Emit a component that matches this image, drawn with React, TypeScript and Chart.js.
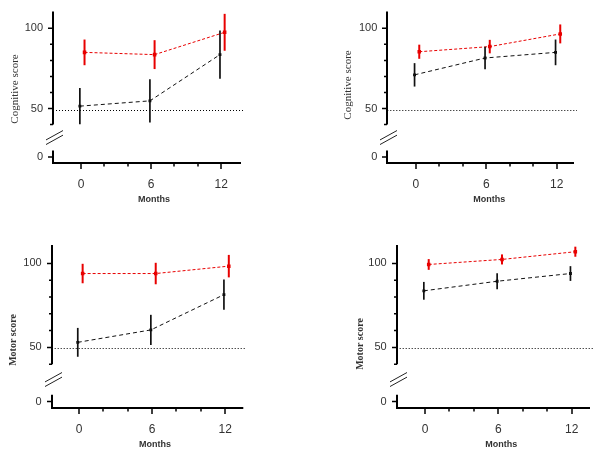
import React, { useEffect, useRef } from 'react';
import { Chart, LinearScale, registerables } from 'chart.js';

// ---------- data ----------
const MONTHS = [0, 6, 12];
const X_TICKS = [0, 6, 12];
const X_MINOR_TICKS = [2, 4, 8, 10];
const Y_TICKS = [0, 50, 100];
const Y_MINOR_TICKS = [40, 60, 70, 80, 90];
const REFERENCE_SCORE = 50;
const X_TITLE = 'Months';
const COGNITIVE_TITLE = 'Cognitive score';
const MOTOR_TITLE = 'Motor score';
const RED_GROUP = 'Group 1';
const BLACK_GROUP = 'Group 2';

// top-left: cognitive
const cogLeftRed = [85, 83.6, 97.5];
const cogLeftRedErr = [8, 9, 11.5];
const cogLeftBlack = [51.5, 54.8, 83.6];
const cogLeftBlackErr = [11.3, 13.5, 15];
// top-right: cognitive
const cogRightRed = [85.4, 88.6, 96.5];
const cogRightRedErr = [4.4, 4.2, 5.9];
const cogRightBlack = [71, 81.5, 85];
const cogRightBlackErr = [7.3, 7, 8];
// bottom-left: motor
const motLeftRed = [94, 94, 98.4];
const motLeftRedErr = [5.8, 6.4, 6.7];
const motLeftBlack = [53, 60.4, 81.4];
const motLeftBlackErr = [8.6, 9, 9];
// bottom-right: motor
const motRightRed = [99.4, 102.4, 107];
const motRightRedErr = [3.2, 3, 3];
const motRightBlack = [83.7, 89.4, 94];
const motRightBlackErr = [5.3, 4.8, 4.4];

const PANELS = [
  { title: COGNITIVE_TITLE, red: cogLeftRed, redErr: cogLeftRedErr, black: cogLeftBlack, blackErr: cogLeftBlackErr },
  { title: COGNITIVE_TITLE, red: cogRightRed, redErr: cogRightRedErr, black: cogRightBlack, blackErr: cogRightBlackErr },
  { title: MOTOR_TITLE, red: motLeftRed, redErr: motLeftRedErr, black: motLeftBlack, blackErr: motLeftBlackErr },
  { title: MOTOR_TITLE, red: motRightRed, redErr: motRightRedErr, black: motRightBlack, blackErr: motRightBlackErr },
];

// ---------- layout / style ----------
const RED_OFFSET = 0.3;
const BLACK_OFFSET = -0.1;
const Y_MIN = -4;
const BREAK_LOW = 4;
const BREAK_HIGH = 40;
const Y_AXIS_W = 40;
const CANVAS_W = 300;
const CANVAS_H = 229;
const RED = 'rgb(232,0,0)';
const INK = '#000';
const TEXT = '#333';
const SERIF = '"Liberation Serif", "Times New Roman", serif';

const PANEL_LAYOUT = [
  { left: 0, top: 0, padLeft: 13, padRight: 59, padTop: 11, xH: 65.7, xMin: -2.4, xMax: 13.7, yMax: 110.4, gap: 16.1, titleDx: 38, titleCy: 89, titleFont: '11px ' + SERIF },
  { left: 300, top: 0, padLeft: 47.3, padRight: 26, padTop: 11, xH: 65.7, xMin: -2.42, xMax: 13.47, yMax: 110.4, gap: 16.1, titleDx: 39, titleCy: 85, titleFont: '11px ' + SERIF },
  { left: 0, top: 229, padLeft: 11.7, padRight: 56.7, padTop: 16, xH: 49.7, xMin: -2.24, xMax: 13.49, yMax: 111, gap: 18.3, titleDx: 38.7, titleCy: 111, titleFont: 'bold 10px ' + SERIF },
  { left: 300, top: 229, padLeft: 56.7, padRight: 10, padTop: 16, xH: 49.7, xMin: -2.32, xMax: 13.5, yMax: 111, gap: 18.3, titleDx: 36.7, titleCy: 115, titleFont: 'bold 10px ' + SERIF },
];

// ---------- broken linear scale ----------
class BrokenLinearScale extends LinearScale {
  static id = 'brokenLinear';
  static defaults = {};
  brk() {
    const o: any = this.options;
    return { lo: o.breakLow ?? BREAK_LOW, hi: o.breakHigh ?? BREAK_HIGH, gap: o.gapUnits ?? 16 };
  }
  getPixelForValue(value: any) {
    if (value === null || value === undefined || isNaN(value)) return NaN;
    const { lo, hi, gap } = this.brk();
    const min = this.min, max = this.max;
    const total = (lo - min) + gap + (max - hi);
    let u: number;
    if (value <= lo) u = value - min;
    else if (value >= hi) u = (lo - min) + gap + (value - hi);
    else u = (lo - min) + gap * (value - lo) / (hi - lo);
    return this.bottom - (u / total) * (this.bottom - this.top);
  }
  getValueForPixel(pixel: number) {
    const { lo, hi, gap } = this.brk();
    const min = this.min, max = this.max;
    const total = (lo - min) + gap + (max - hi);
    const u = ((this.bottom - pixel) / (this.bottom - this.top)) * total;
    const a = lo - min, b = a + gap;
    if (u <= a) return min + u;
    if (u >= b) return hi + (u - b);
    return lo + ((u - a) / gap) * (hi - lo);
  }
}

Chart.register(...registerables, BrokenLinearScale);

function makeDecor(panel: any, lay: any) {
  return {
    id: 'decor',
    beforeDatasetsDraw(chart: any) {
      const { ctx, chartArea } = chart;
      const y = chart.scales.y;
      const py = Math.round(y.getPixelForValue(REFERENCE_SCORE)) + 1.5;
      ctx.save();
      ctx.strokeStyle = INK;
      ctx.lineWidth = 1;
      ctx.setLineDash([1, 2]);
      ctx.beginPath();
      ctx.moveTo(chartArea.left, py);
      ctx.lineTo(chartArea.right + 3, py);
      ctx.stroke();
      ctx.restore();
    },
    afterDatasetsDraw(chart: any) {
      const { ctx } = chart;
      const x = chart.scales.x;
      const y = chart.scales.y;
      const groups = [
        { vals: panel.black, errs: panel.blackErr, off: BLACK_OFFSET, color: '#111', w: 1.7 },
        { vals: panel.red, errs: panel.redErr, off: RED_OFFSET, color: RED, w: 2 },
      ];
      ctx.save();
      for (const g of groups) {
        ctx.strokeStyle = g.color;
        ctx.lineWidth = g.w;
        MONTHS.forEach((m, i) => {
          const px = x.getPixelForValue(m + g.off);
          ctx.beginPath();
          ctx.moveTo(px, y.getPixelForValue(g.vals[i] + g.errs[i]));
          ctx.lineTo(px, y.getPixelForValue(g.vals[i] - g.errs[i]));
          ctx.stroke();
        });
      }
      ctx.restore();
    },
    afterDraw(chart: any) {
      const { ctx, chartArea } = chart;
      const x = chart.scales.x;
      const y = chart.scales.y;
      const ax = Math.round(chartArea.left);
      const bottom = Math.round(chartArea.bottom);
      ctx.save();
      ctx.strokeStyle = INK;
      ctx.lineWidth = 2;
      // y axis segments
      ctx.beginPath();
      ctx.moveTo(ax, chartArea.top);
      ctx.lineTo(ax, y.getPixelForValue(BREAK_HIGH));
      ctx.moveTo(ax, y.getPixelForValue(BREAK_LOW));
      ctx.lineTo(ax, bottom + 1);
      // x axis
      ctx.moveTo(ax - 1, bottom);
      ctx.lineTo(chartArea.right, bottom);
      ctx.stroke();
      // ticks
      ctx.lineWidth = 1.5;
      ctx.beginPath();
      for (const v of Y_TICKS) {
        const py = y.getPixelForValue(v);
        ctx.moveTo(ax - 5, py);
        ctx.lineTo(ax, py);
      }
      for (const v of Y_MINOR_TICKS) {
        const py = y.getPixelForValue(v);
        ctx.moveTo(ax - 3, py);
        ctx.lineTo(ax, py);
      }
      for (const v of X_TICKS) {
        const px = Math.round(x.getPixelForValue(v));
        ctx.moveTo(px, bottom);
        ctx.lineTo(px, bottom + 6);
      }
      for (const v of X_MINOR_TICKS) {
        const px = Math.round(x.getPixelForValue(v));
        ctx.moveTo(px, bottom);
        ctx.lineTo(px, bottom + 3.5);
      }
      ctx.stroke();
      // break marks
      const cy = (y.getPixelForValue(BREAK_HIGH) + y.getPixelForValue(BREAK_LOW)) / 2;
      const cx = ax + 1.5;
      ctx.lineWidth = 1;
      ctx.strokeStyle = '#222';
      ctx.beginPath();
      for (const d of [-2.3, 2.3]) {
        ctx.moveTo(cx - 8.5, cy + 4.7 + d);
        ctx.lineTo(cx + 8.5, cy - 4.7 + d);
      }
      ctx.stroke();
      // titles
      ctx.fillStyle = TEXT;
      ctx.textAlign = 'center';
      ctx.textBaseline = 'middle';
      ctx.font = 'bold 9px "Liberation Sans", Arial, sans-serif';
      ctx.fillText(X_TITLE, x.getPixelForValue(6) + 3, bottom + 37);
      ctx.save();
      ctx.translate(ax - lay.titleDx, lay.titleCy);
      ctx.rotate(-Math.PI / 2);
      ctx.font = lay.titleFont;
      ctx.fillText(panel.title, 0, 0);
      ctx.restore();
      ctx.restore();
    },
  };
}

function Panel({ index }: { index: number }) {
  const ref = useRef<HTMLCanvasElement>(null);
  useEffect(() => {
    const panel = PANELS[index];
    const lay = PANEL_LAYOUT[index];
    const chart = new Chart(ref.current as HTMLCanvasElement, {
      type: 'line',
      data: {
        datasets: [
          {
            label: BLACK_GROUP,
            data: MONTHS.map((m, i) => ({ x: m + BLACK_OFFSET, y: panel.black[i] })),
            borderColor: '#111',
            borderWidth: 1,
            borderDash: [4, 3],
            pointStyle: 'rect',
            pointRadius: 2,
            pointBackgroundColor: '#000',
            pointBorderWidth: 0,
            fill: false,
            tension: 0,
          },
          {
            label: RED_GROUP,
            data: MONTHS.map((m, i) => ({ x: m + RED_OFFSET, y: panel.red[i] })),
            borderColor: RED,
            borderWidth: 1,
            borderDash: [3, 2],
            pointStyle: 'rect',
            pointRadius: 2.5,
            pointBackgroundColor: RED,
            pointBorderWidth: 0,
            fill: false,
            tension: 0,
          },
        ],
      },
      options: {
        animation: false,
        responsive: false,
        events: [],
        layout: {
          autoPadding: false,
          padding: { left: lay.padLeft, right: lay.padRight, top: lay.padTop, bottom: 0 },
        },
        plugins: { legend: { display: false }, tooltip: { enabled: false } },
        scales: {
          x: {
            type: 'linear',
            min: lay.xMin,
            max: lay.xMax,
            bounds: 'data',
            afterBuildTicks: (s: any) => { s.ticks = X_TICKS.map((v) => ({ value: v })); },
            afterFit: (s: any) => { s.height = lay.xH; },
            border: { display: false },
            grid: { drawOnChartArea: false, color: 'transparent', tickLength: 5 },
            ticks: {
              padding: 9,
              color: TEXT,
              font: { family: '"Liberation Sans", Arial, sans-serif', size: 12 },
              maxRotation: 0,
              autoSkip: false,
              callback: (v: any) => String(v),
            },
          },
          y: {
            type: 'brokenLinear',
            min: Y_MIN,
            max: lay.yMax,
            bounds: 'data',
            breakLow: BREAK_LOW,
            breakHigh: BREAK_HIGH,
            gapUnits: lay.gap,
            afterBuildTicks: (s: any) => { s.ticks = Y_TICKS.map((v) => ({ value: v })); },
            afterFit: (s: any) => { s.width = Y_AXIS_W; },
            border: { display: false },
            grid: { drawOnChartArea: false, color: 'transparent', tickLength: 5 },
            ticks: {
              padding: 5,
              color: TEXT,
              font: { family: '"Liberation Sans", Arial, sans-serif', size: 11 },
              autoSkip: false,
              callback: (v: any) => String(v),
            },
          } as any,
        },
      },
      plugins: [makeDecor(panel, lay)],
    } as any);
    return () => chart.destroy();
  }, [index]);
  const lay = PANEL_LAYOUT[index];
  return (
    <canvas
      ref={ref}
      width={CANVAS_W}
      height={CANVAS_H}
      style={{ position: 'absolute', left: lay.left, top: lay.top, width: CANVAS_W, height: CANVAS_H, display: 'block' }}
    />
  );
}

export default function App() {
  return (
    <div style={{ position: 'absolute', left: 0, top: 0, width: 600, height: 458, background: '#fff' }}>
      {PANELS.map((_, i) => (
        <Panel key={i} index={i} />
      ))}
    </div>
  );
}
